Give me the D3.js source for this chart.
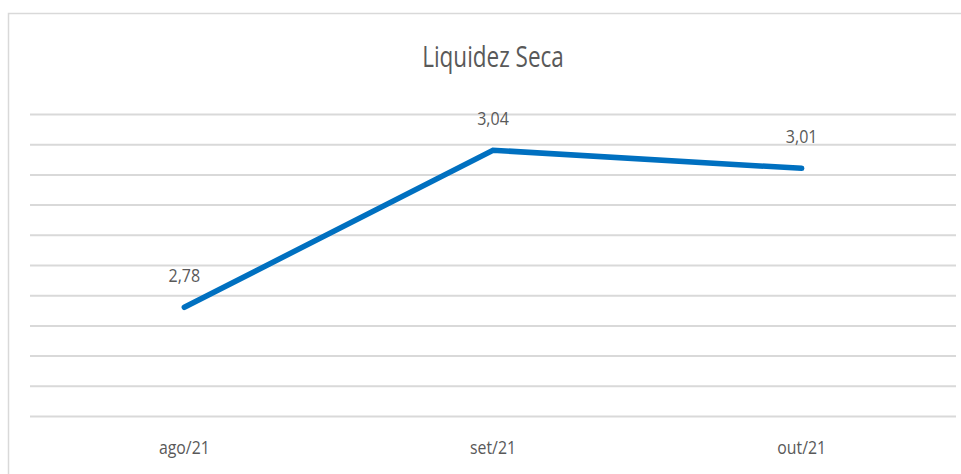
<!DOCTYPE html>
<html>
<head>
<meta charset="utf-8">
<script src="https://cdn.jsdelivr.net/npm/d3@7"></script>
<style>
  html, body { margin: 0; padding: 0; background: #fff; }
  svg { display: block; }
  .grid line { stroke: #d9d9d9; stroke-width: 2px; }
  .grid .domain { display: none; }
  text { font-family: "Open Sans", sans-serif; fill: #595959; }
</style>
</head>
<body>
<svg width="961" height="474"></svg>
<script>
  // chart data
  const title = 'Liquidez Seca';
  const months = ['ago/21', 'set/21', 'out/21'];
  const values = [2.78, 3.04, 3.01];
  const yDomain = [2.6, 3.1];
  const yTicks = [2.6, 2.65, 2.7, 2.75, 2.8, 2.85, 2.9, 2.95, 3.0, 3.05, 3.1];

  const svg = d3.select('svg');
  const width = +svg.attr('width');
  const height = +svg.attr('height');

  const margin = { top: 114, right: 5, bottom: 58, left: 30 };
  const innerWidth = width - margin.left - margin.right;
  const innerHeight = height - margin.top - margin.bottom;

  // squeeze text horizontally to mimic the narrow Calibri look
  const narrow = (sel, k) => sel.each(function () {
    const w = this.getComputedTextLength();
    d3.select(this)
      .attr('textLength', w * k)
      .attr('lengthAdjust', 'spacingAndGlyphs');
  });

  // outer chart border (right/bottom edges fall outside the window)
  svg.append('path')
    .attr('d', `M8.5,${height}V13.5H${width}`)
    .attr('fill', 'none')
    .attr('stroke', '#d9d9d9')
    .attr('stroke-width', 1.5);

  const g = svg.append('g')
    .attr('transform', `translate(${margin.left},${margin.top})`);

  const xScale = d3.scalePoint()
    .domain(months)
    .range([0, innerWidth])
    .padding(0.5);

  const yScale = d3.scaleLinear()
    .domain(yDomain)
    .range([innerHeight, 0]);

  g.append('g')
    .attr('class', 'grid')
    .call(d3.axisLeft(yScale)
      .tickValues(yTicks)
      .tickSize(-innerWidth)
      .tickFormat(''));

  g.append('g')
    .attr('transform', `translate(0,${innerHeight})`)
    .selectAll('text').data(months)
    .enter().append('text')
      .attr('text-anchor', 'middle')
      .attr('font-size', 18)
      .attr('x', d => xScale(d))
      .attr('y', 38)
      .text(d => d)
      .call(narrow, 0.88);

  const points = months.map((m, i) => ({ month: m, value: values[i] }));

  const line = d3.line()
    .x(d => xScale(d.month))
    .y(d => yScale(d.value));

  g.append('path')
    .datum(points)
    .attr('fill', 'none')
    .attr('stroke', '#0070c0')
    .attr('stroke-width', 5.5)
    .attr('stroke-linecap', 'round')
    .attr('d', line);

  g.selectAll('.value-label').data(points)
    .enter().append('text')
      .attr('class', 'value-label')
      .attr('text-anchor', 'middle')
      .attr('font-size', 18)
      .attr('x', d => xScale(d.month))
      .attr('y', d => yScale(d.value) - 25)
      .text(d => d3.format('.2f')(d.value).replace('.', ','))
      .call(narrow, 0.89);

  svg.append('text')
    .attr('text-anchor', 'middle')
    .attr('font-size', 30)
    .attr('x', margin.left + innerWidth / 2)
    .attr('y', 67)
    .text(title)
    .call(narrow, 0.75);
</script>
</body>
</html>
